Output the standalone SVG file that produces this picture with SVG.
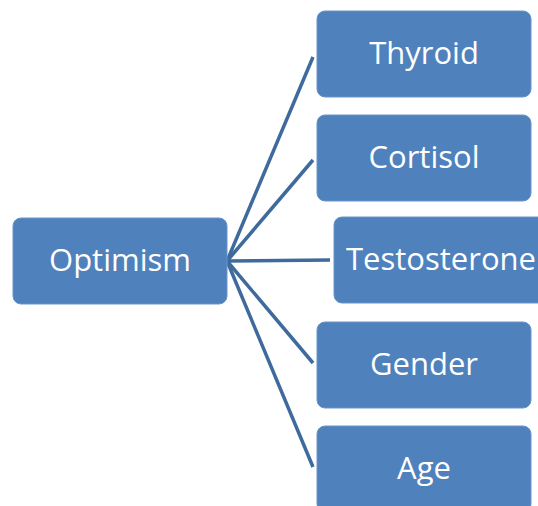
<svg xmlns="http://www.w3.org/2000/svg" width="538" height="506" viewBox="0 0 538 506">
<style>
.box{fill:#4f81bd;stroke:#6a94c8;stroke-width:1}
.lbl{font-family:"Open Sans","DejaVu Sans",sans-serif;font-size:31px;font-weight:500;fill:#ffffff;text-anchor:middle;dominant-baseline:central}
.conn{stroke:#3e6a9c;stroke-width:3.5;fill:none;stroke-linecap:butt}
</style>
<rect width="538" height="506" fill="#ffffff"/>
<g id="connectors">
<line class="conn" x1="227" y1="261" x2="313" y2="57"/>
<line class="conn" x1="227" y1="261" x2="313" y2="160"/>
<line class="conn" x1="227" y1="261" x2="330" y2="260"/>
<line class="conn" x1="227" y1="261" x2="313" y2="363"/>
<line class="conn" x1="227" y1="261" x2="313" y2="467"/>
</g>
<g id="optimism">
<rect class="box" x="13" y="218" width="214" height="86" rx="8"/>
<text class="lbl" x="120" y="259">Optimism</text>
</g>
<g id="thyroid">
<rect class="box" x="317" y="11" width="214" height="86" rx="8"/>
<text class="lbl" x="424" y="52">Thyroid</text>
</g>
<g id="cortisol">
<rect class="box" x="317" y="115" width="214" height="86" rx="8"/>
<text class="lbl" x="424" y="156">Cortisol</text>
</g>
<g id="testosterone">
<rect class="box" x="334" y="217" width="214" height="86" rx="8"/>
<text class="lbl" x="441" y="258">Testosterone</text>
</g>
<g id="gender">
<rect class="box" x="317" y="322" width="214" height="86" rx="8"/>
<text class="lbl" x="424" y="363">Gender</text>
</g>
<g id="age">
<rect class="box" x="317" y="426" width="214" height="86" rx="8"/>
<text class="lbl" x="424" y="467">Age</text>
</g>
</svg>
